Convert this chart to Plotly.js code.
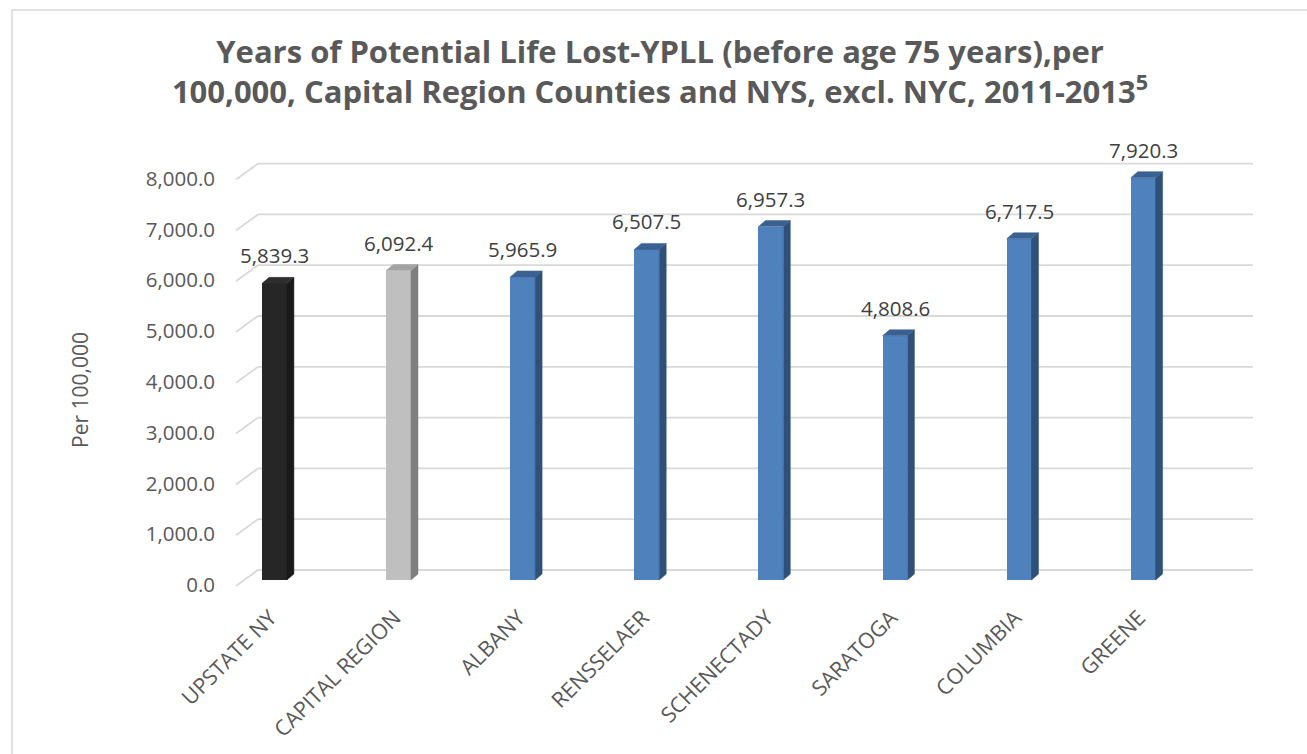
<!DOCTYPE html>
<html><head><meta charset="utf-8">
<script src="https://cdn.plot.ly/plotly-3.0.1.min.js"></script>
<style>html,body{margin:0;padding:0;background:#fff}#chart{width:1307px;height:754px}</style>
</head><body><div id="chart"></div>
<script>
// ---- data ----
const categories = ["UPSTATE NY","CAPITAL REGION","ALBANY","RENSSELAER","SCHENECTADY","SARATOGA","COLUMBIA","GREENE"];
const values = [5839.3, 6092.4, 5965.9, 6507.5, 6957.3, 4808.6, 6717.5, 7920.3];
const valueLabels = ["5,839.3","6,092.4","5,965.9","6,507.5","6,957.3","4,808.6","6,717.5","7,920.3"];
const tickValues = [0, 1000, 2000, 3000, 4000, 5000, 6000, 7000, 8000];
const tickLabels = ["0.0","1,000.0","2,000.0","3,000.0","4,000.0","5,000.0","6,000.0","7,000.0","8,000.0"];
const barGroup = ["state","region","county","county","county","county","county","county"];

// ---- styles ----
const palette = {
  state:  {front:"#262626", side:"#1a1a1a", top:"#2e2e2e"},
  region: {front:"#bfbfbf", side:"#7f7f7f", top:"#a3a3a3"},
  county: {front:"#4f81bd", side:"#2f5079", top:"#3b6192"}
};
const W = 1307, H = 754;
const L = 236, R = 1253, T = 130, B = 600;
const cat0px = 274.5, pxPerCat = 124.1;
const zeroPx = 580, pxPerUnit = 0.0508;
const xmin = (L - cat0px) / pxPerCat, xmax = (R - cat0px) / pxPerCat;
const ymin = -(B - zeroPx) / pxPerUnit, ymax = (zeroPx - T) / pxPerUnit;
const barW = 0.2;
const depthX = 7 / pxPerCat, depthY = 6 / pxPerUnit;
const px2paperX = p => (p - L) / (R - L);
const px2paperY = p => (B - p) / (B - T);

const xs = categories.map((c, i) => i);
const traces = [];
traces.push({
  type: "bar", x: xs, y: values, width: barW,
  marker: {color: barGroup.map(g => palette[g].front), line: {width: 0}},
  hoverinfo: "skip", showlegend: false
});
xs.forEach((i, k) => {
  const v = values[k], c = palette[barGroup[k]];
  const xr = i + barW / 2, xl = i - barW / 2;
  traces.push({
    type: "scatter", mode: "lines", fill: "toself", fillcolor: c.side,
    line: {width: 0.5, color: c.side},
    x: [xr, xr + depthX, xr + depthX, xr, xr],
    y: [0, depthY, v + depthY, v, 0],
    hoverinfo: "skip", showlegend: false
  });
  traces.push({
    type: "scatter", mode: "lines", fill: "toself", fillcolor: c.top,
    line: {width: 0.5, color: c.top},
    x: [xl, xr, xr + depthX, xl + depthX, xl],
    y: [v, v, v + depthY, v + depthY, v],
    hoverinfo: "skip", showlegend: false
  });
});

// gridlines drawn as a back wall with a front-edge stub
const frontDrop = 6 / pxPerUnit, backRise = 10 / pxPerUnit;
const backX = px2paperX(258);
const shapes = tickValues.map(v => ({
  type: "path", xref: "paper", yref: "y", layer: "below",
  path: `M 0,${v - frontDrop} L ${backX},${v + backRise} L 1,${v + backRise}`,
  line: {color: "#d9d9d9", width: 1.8}
}));
// chart-area border
shapes.push({
  type: "path", xref: "paper", yref: "paper", layer: "below",
  path: `M ${px2paperX(12)},${px2paperY(H + 5)} L ${px2paperX(12)},${px2paperY(10)} L ${px2paperX(W + 5)},${px2paperY(10)}`,
  line: {color: "#d9d9d9", width: 1.5}
});

const annotations = xs.map((i, k) => ({
  x: i, y: values[k], xref: "x", yref: "y", text: valueLabels[k],
  showarrow: false, yanchor: "bottom", xanchor: "center", yshift: 12,
  font: {family: "Open Sans, sans-serif", size: 20.5, color: "#404040"}
}));
annotations.push({
  xref: "paper", yref: "paper", x: px2paperX(80), y: px2paperY(390),
  text: "Per 100,000", textangle: -90, showarrow: false,
  xanchor: "center", yanchor: "middle",
  font: {family: "Open Sans, sans-serif", size: 21, color: "#595959"}
});

const layout = {
  width: W, height: H,
  margin: {l: L, r: W - R, t: T, b: H - B, pad: 0},
  paper_bgcolor: "#ffffff", plot_bgcolor: "rgba(0,0,0,0)",
  showlegend: false,
  title: {
    text: "Years of Potential Life Lost-YPLL (before age 75 years),per<br>100,000, Capital Region Counties and NYS, excl. NYC, 2011-2013<sup>5</sup>",
    x: 0.505, xref: "container", xanchor: "center",
    y: 0.917, yref: "container", yanchor: "middle",
    font: {family: "Open Sans, sans-serif", size: 31, color: "#595959", weight: 700}
  },
  xaxis: {
    range: [xmin, xmax], tickmode: "array", tickvals: xs, ticktext: categories,
    tickangle: -45, showgrid: false, zeroline: false, showline: false, ticks: "",
    ticklabelstandoff: 0, ticklabelshift: -4,
    tickfont: {family: "Open Sans, sans-serif", size: 21.5, color: "#595959"},
    fixedrange: true
  },
  yaxis: {
    range: [ymin, ymax], tickmode: "array", tickvals: tickValues, ticktext: tickLabels,
    showgrid: false, zeroline: false, showline: false, ticks: "",
    ticklabelshift: 5, ticklabelstandoff: 20,
    tickfont: {family: "Open Sans, sans-serif", size: 20.5, color: "#595959"},
    fixedrange: true
  },
  shapes: shapes, annotations: annotations,
  bargap: 0
};
Plotly.newPlot("chart", traces, layout, {displayModeBar: false, staticPlot: true});
</script>
</body></html>
